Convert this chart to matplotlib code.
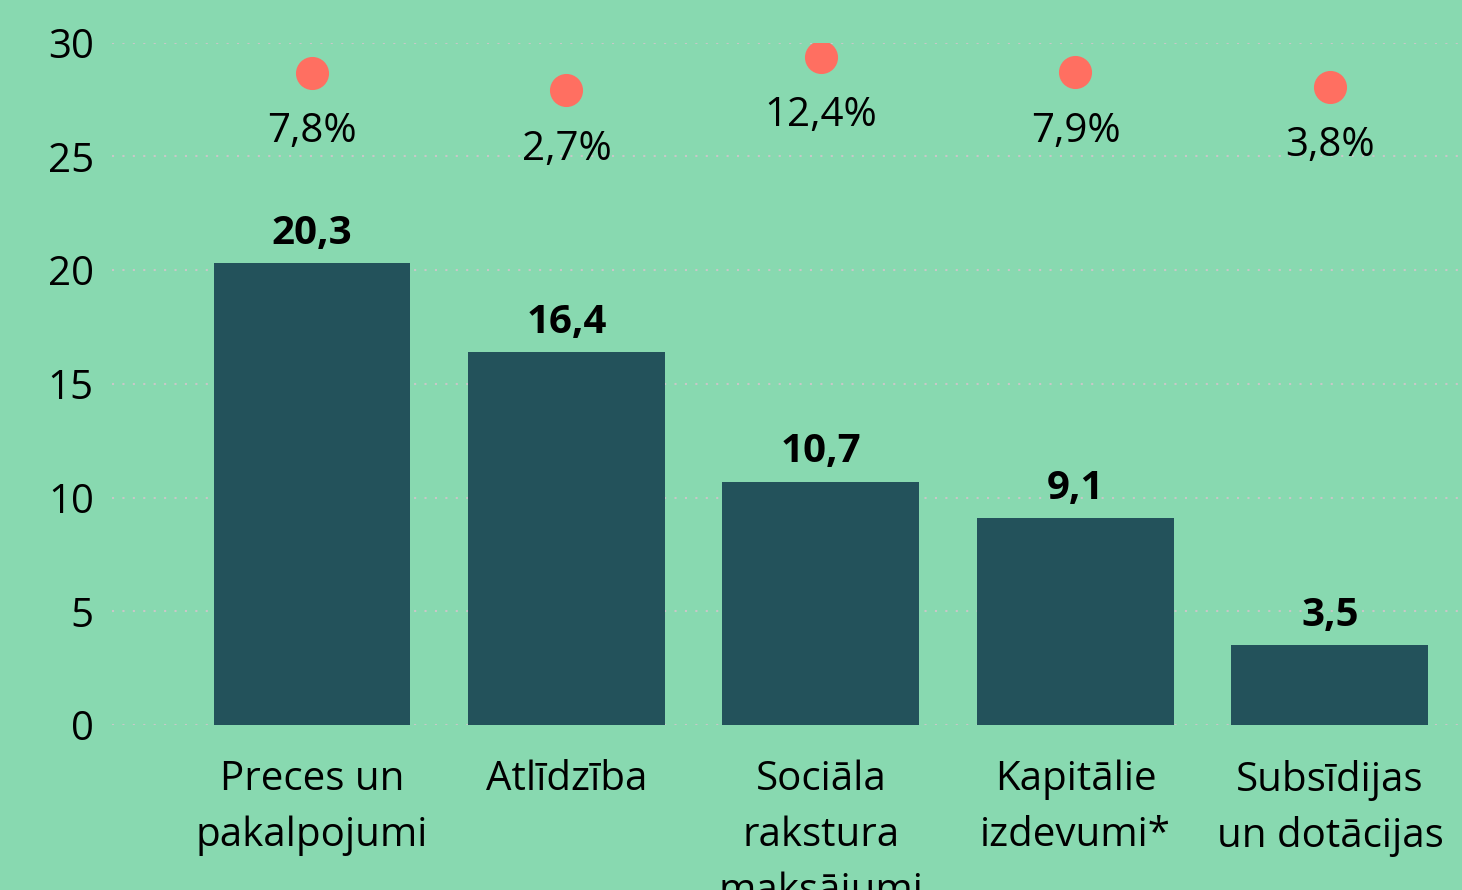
import matplotlib.pyplot as plt
import numpy as np

plt.rcParams['font.family'] = ['Open Sans', 'DejaVu Sans']

categories = ["Preces un\npakalpojumi", "Atlīdzība", "Sociāla\nrakstura\nmaksājumi",
              "Kapitālie\nizdevumi*", "Subsīdijas\nun dotācijas"]
values = [20.3, 16.4, 10.7, 9.1, 3.5]
growth = [7.8, 2.7, 12.4, 7.9, 3.8]

bg = '#88d9b0'
bar_color = '#23525b'
dot_color = '#ff6f61'

fig = plt.figure(figsize=(14.62, 8.9), dpi=100, facecolor=bg)
ax = fig.add_axes([0.0766, 0.1854, 0.9234, 0.7666])
ax.set_facecolor(bg)

x = np.arange(len(categories))
ax.bar(x, values, width=0.774, color=bar_color, zorder=2)

# vertību uzraksti virs stabiņiem
for xi, v in zip(x, values):
    ax.annotate(f"{v:.1f}".replace('.', ','), (xi, v), xytext=(0, 14),
                textcoords='offset points', ha='center', va='baseline',
                fontsize=29, fontweight='bold')

ax.set_xlim(-0.786, 4.519)
ax.set_ylim(0, 30)
ax.set_yticks(range(0, 31, 5))
ax.set_xticks(x)
ax.set_xticklabels(categories, fontsize=29, linespacing=1.5)
ax.tick_params(axis='y', labelsize=29, length=0, pad=13)
ax.tick_params(axis='x', length=0, pad=25)
ax.grid(axis='y', linestyle=(0, (1, 4)), color='#c8c8c8', linewidth=1.5, zorder=0)
ax.set_axisbelow(True)
for s in ax.spines.values():
    s.set_visible(False)

# pieauguma punkti uz otras ass
ax2 = ax.twinx()
ax2.set_ylim(-181.3, 16.5)
ax2.scatter(x, growth, s=520, color=dot_color, zorder=3)
for xi, g in zip(x, growth):
    ax2.annotate(f"{g:.1f}%".replace('.', ','), (xi, g), xytext=(0, -50),
                 textcoords='offset points', ha='center', va='baseline',
                 fontsize=29)
ax2.set_yticks([])
for s in ax2.spines.values():
    s.set_visible(False)

fig.savefig('out.png', dpi=100, facecolor=bg)
